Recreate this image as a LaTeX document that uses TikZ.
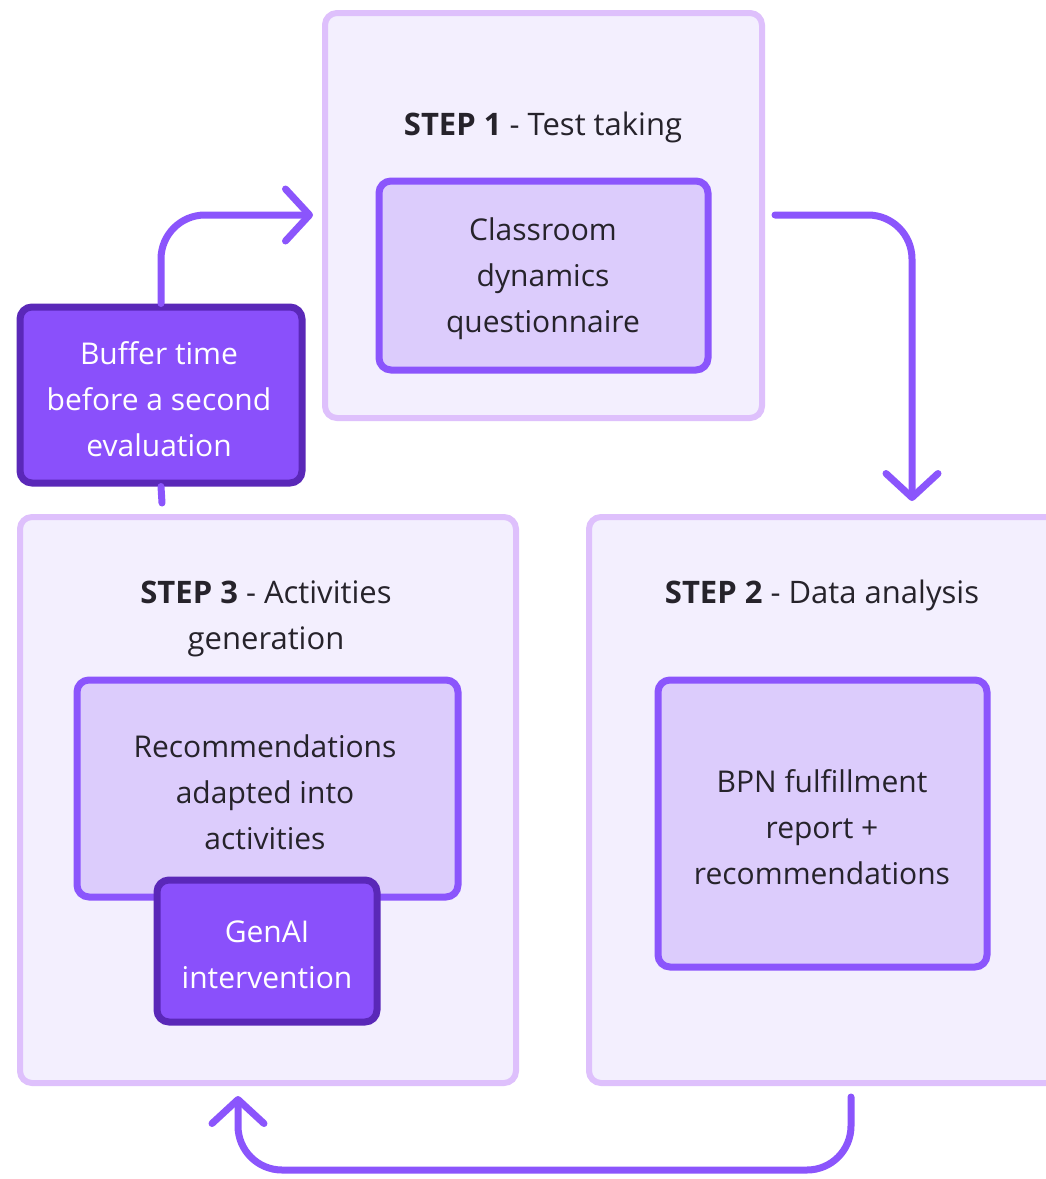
\documentclass[tikz,border=0pt]{standalone}
\usepackage{fontspec}
\setmainfont{Open Sans}
\usetikzlibrary{arrows.meta}
\definecolor{outerline}{HTML}{DEC0FC}
\definecolor{outerfill}{HTML}{F3EFFE}
\definecolor{innerline}{HTML}{8B55FC}
\definecolor{innerfill}{HTML}{DCCCFC}
\definecolor{darkfill}{HTML}{8A50FB}
\definecolor{darkline}{HTML}{5A28B8}
\definecolor{txt}{HTML}{26232B}
\definecolor{arrowc}{HTML}{8B55FC}
\tikzset{
  outerbox/.style={draw=outerline, fill=outerfill, line width=6pt, rounded corners=12pt, inner sep=0pt},
  innerbox/.style={draw=innerline, fill=innerfill, line width=7pt, rounded corners=12pt, inner sep=0pt},
  darkbox/.style={draw=darkline, fill=darkfill, line width=7pt, rounded corners=12pt, inner sep=0pt, align=center, text=white, font=\fontsize{30}{46}\selectfont, text depth=-6pt},
  bodytext/.style={align=center, text=txt, font=\fontsize{30}{46}\selectfont, inner sep=0pt},
  titletext/.style={align=center, text=txt, font=\fontsize{31}{46}\selectfont, inner sep=0pt},
  flow/.style={draw=arrowc, line width=7pt, line cap=round, rounded corners=44pt},
  tip/.style={-{Straight Barb[length=24pt,width=52pt,round]}}
}
\begin{document}
\begin{tikzpicture}[x=1pt,y=-1pt]
\useasboundingbox (0,0) rectangle (1046,1179);
\clip (0,0) rectangle (1046,1179);
\fill[white] (0,0) rectangle (1046,1179);

% outer step boxes
\node[outerbox, minimum width=437pt, minimum height=405pt] (s1) at (543.5,215.5) {};
\node[outerbox, minimum width=496pt, minimum height=566pt] (s3) at (268,800) {};
\node[outerbox, minimum width=480pt, minimum height=566pt] (s2) at (829,800) {};

% titles
\node[titletext] (t1) at (543,127) {\textbf{STEP 1} - Test taking};
\node[titletext] (t3) at (266,619) {\textbf{STEP 3} - Activities\\generation};
\node[titletext] (t2) at (822,595) {\textbf{STEP 2} - Data analysis};

% inner boxes
\node[innerbox, minimum width=329pt, minimum height=189pt] (q) at (543.5,275.5) {};
\node[bodytext] (qt) at (543,279) {Classroom\\dynamics\\questionnaire};
\node[innerbox, minimum width=381pt, minimum height=217pt] (r) at (267.5,788.5) {};
\node[bodytext] (rt) at (265,792) {Recommendations\\adapted into\\activities};
\node[innerbox, minimum width=329pt, minimum height=287pt] (b) at (822.5,823.5) {};
\node[bodytext] (bt) at (822,827) {BPN fulfillment\\report +\\recommendations};
\node[darkbox, minimum width=220pt, minimum height=142pt] (g) at (267,951) {};
\node[bodytext, text=white] (gt) at (267,955) {GenAI\\intervention};

% connectors
\coordinate (c1s) at (162,503);
\coordinate (c1e) at (313,215);
\coordinate (c2s) at (775,215);
\coordinate (c2e) at (912,501);
\coordinate (c3s) at (851,1097);
\coordinate (c3e) at (238,1096);

\node[darkbox, minimum width=282pt, minimum height=176pt] (buf) at (161,395) {};
\node[bodytext, text=white] (buft) at (159,399) {Buffer time\\before a second\\evaluation};

\draw[flow] (c1s) -- (buf.south);
\draw[flow, tip] (buf.north) |- (c1e);
\draw[flow, tip] (c2s) -| (c2e);
\draw[flow, tip] (c3s) -- (851,1170) -- (238,1170) -- (c3e);
\end{tikzpicture}
\end{document}
